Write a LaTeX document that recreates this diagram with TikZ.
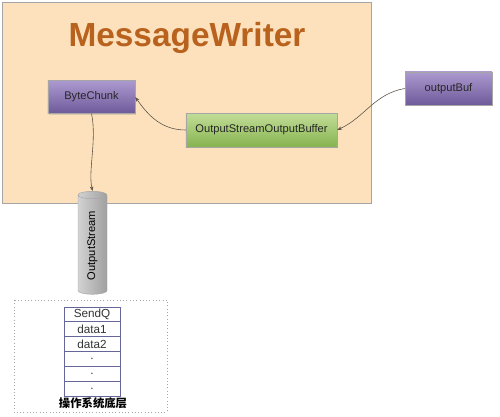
\documentclass[tikz,border=0pt]{standalone}
\usepackage{fontspec}
\setmainfont{Liberation Sans}
\newfontfamily\cjk{Noto Sans CJK SC}
\usetikzlibrary{positioning,shapes.geometric,arrows.meta,shadows}
\definecolor{wrapbg}{HTML}{FCE1BC}
\definecolor{titlebrown}{HTML}{B8621E}
\definecolor{lilaclight}{HTML}{AC99CF}
\definecolor{lilacdark}{HTML}{6E5A9A}
\definecolor{leaflight}{HTML}{C2DE98}
\definecolor{leafdark}{HTML}{86B34F}
\definecolor{wirecol}{HTML}{5E5548}
\tikzset{
  classbox/.style={draw=gray!70, top color=lilaclight, bottom color=lilacdark,
    minimum width=2.61cm, minimum height=0.98cm, inner sep=1pt,
    font=\fontsize{9.5}{11}\selectfont, text=black!85,
    drop shadow={opacity=0.25, shadow xshift=1pt, shadow yshift=-1pt}},
  bufbox/.style={classbox, top color=leaflight, bottom color=leafdark,
    minimum width=4.53cm, minimum height=1.02cm},
  cellbox/.style={draw=gray!80!blue, fill=white, minimum width=1.68cm,
    minimum height=0.435cm, inner sep=0pt,
    font=\fontsize{10}{11}\selectfont, text=black!80},
  wire/.style={draw=wirecol, line width=0.5pt, -{Stealth[length=4pt,width=3pt]}}
}
\begin{document}
\begin{tikzpicture}[x=0.03cm,y=-0.03cm]
\useasboundingbox (0,0) rectangle (500,417);
\draw [gray!70, fill=wrapbg] (2,2) rectangle (371,203);
\node (title) at (187,38) {\fontsize{28.5}{30}\selectfont\bfseries\color{titlebrown}MessageWriter};
\node [classbox] (chunk) at (91.5,97) {ByteChunk};
\node [bufbox] (osob) at (261.5,130) {OutputStreamOutputBuffer};
\node [classbox, minimum height=1cm] (outbuf) at (448.5,88.5) {outputBuf};
\node [cylinder, rotate=90, draw=gray!70, left color=gray!35, right color=gray!75,
  minimum width=0.87cm, minimum height=3.09cm, aspect=0.6, inner sep=1pt,
  font=\fontsize{9.5}{11}\selectfont] (ostream) at (92.5,245.5) {OutputStream};
\draw [wire] (outbuf.west) to[out=190,in=25] (osob.east);
\draw [wire] (osob.west) to[out=180,in=-55] (chunk.east);
\draw [wire] (chunk.south) .. controls (97,140) and (88,170) .. (ostream.top);
\draw [gray!70, dotted, line width=0.8pt] (14,300) rectangle (167,412);
\node [cellbox] (sendq) at (92,314) {SendQ};
\node [cellbox, below=0pt of sendq] (dataA) {data1};
\node [cellbox, below=0pt of dataA] (dataB) {data2};
\node [cellbox, below=0pt of dataB] (dotA) {.};
\node [cellbox, below=0pt of dotA] (dotB) {.};
\node [cellbox, below=0pt of dotB] (dotC) {.};
\draw [gray!80!blue, line width=0.9pt] (dataB.south west) -- (dataB.south east);
\node (oslayer) at (93,403) {\cjk\bfseries\fontsize{9.7}{11}\selectfont 操作系统底层};
\end{tikzpicture}
\end{document}
